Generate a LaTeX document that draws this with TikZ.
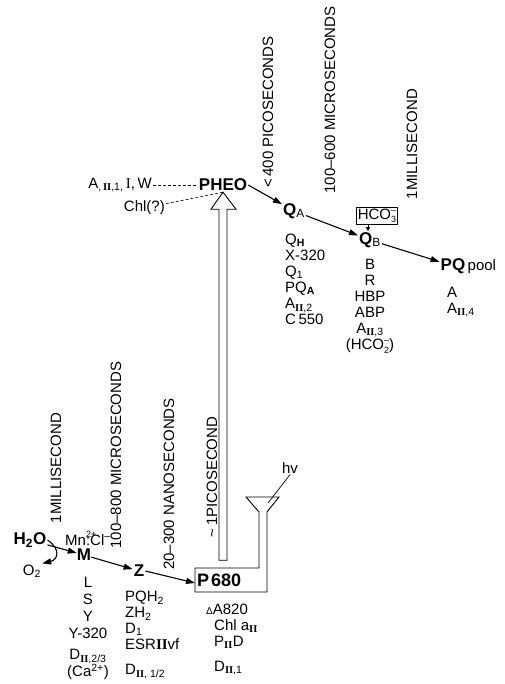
\documentclass[tikz,border=0pt]{standalone}
\usepackage{fontspec}
\setmainfont{Liberation Sans}
\newfontfamily\romfont{Liberation Serif}
\usetikzlibrary{arrows.meta,positioning,calc}
\newcommand\rII{{\romfont\bfseries II}}
\newcommand\sbsp[2]{\raisebox{-3.5pt}{\fontsize{9}{8}\selectfont\shortstack[l]{#2\\#1}}}
\tikzset{big/.style={font=\fontsize{17}{17}\selectfont\bfseries,inner sep=1pt},txt/.style={font=\fontsize{15}{16}\selectfont,inner sep=1pt},lst/.style={font=\fontsize{15}{16}\selectfont,inner sep=0pt,anchor=north},tm/.style={rotate=90,font=\fontsize{15}{15}\selectfont,inner sep=0pt},arr/.style={-{Triangle[length=9pt,width=6pt]},line width=1.1pt},dsh/.style={dash pattern=on 3pt off 2pt,line width=.6pt},hollow/.style={line width=.9pt,fill=white}}

\begin{document}
\begin{tikzpicture}[x=1pt,y=-1pt]
\path[use as bounding box] (0,0) rectangle (504,684);
\foreach \name/\xx/\yy/\txt in {t1/268/112/{<\,400 PICOSECONDS},t2/330/100/{100--600 MICROSECONDS},t3/412/144/{1MILLISECOND},t4/56/468/{1MILLISECOND},t5/116/455/{100--800 MICROSECONDS},t6/169/484/{20--300 NANOSECONDS},t7/212/477/{\textasciitilde\,1PICOSECOND}}{
\node[tm] (\name) at (\xx,\yy) {\txt};
}
\node[big] (pheo) at (223,185) {PHEO};
\node[txt,anchor=east] (aw) at (153,185) {A\textsubscript{,\,\rII,1,}\,{\romfont I},\,W};
\node[txt,anchor=east] (chl) at (166,208) {Chl(?)};
\node[big] (qa) at (294,211) {Q\textsubscript{\mdseries A}};
\node[draw,font=\fontsize{15}{15}\selectfont,inner sep=1.5pt,line width=.7pt] (hco) at (377,216) {HCO\sbsp{3}{--}};
\node[big] (qb) at (370,240) {Q\textsubscript{\mdseries B}};
\node[big] (pq) at (453,266) {PQ};
\node[txt,anchor=base west] (pool) at (pq.base east) {pool};
\node[lst,align=left,anchor=north west] (qalst) at (285,234) {Q\textsubscript{\bfseries H}\\X-320\\Q\textsubscript{1}\\PQ\textsubscript{\bfseries A}\\A\textsubscript{\rII,2}\\C\,550};
\node[lst,align=center] (qblst) at (370,259) {B\\R\\HBP\\ABP\\A\textsubscript{\rII,3}\\(HCO\sbsp{2}{--})};
\node[lst,align=left,anchor=north west] (pqlst) at (447,287) {A\\A\textsubscript{\rII,4}};
\node[big] (h2o) at (30,540) {H\textsubscript{2}O};
\node[txt] (o2) at (32,571) {O\textsubscript{2}};
\node[txt,anchor=base west,inner sep=0pt] (mncl) at (65,545) {Mn\rlap{\raisebox{8pt}{\fontsize{9}{9}\selectfont 2+}}:Cl\textsuperscript{--}};
\node[big,inner sep=0pt] (m) at (84,555) {M};
\node[big] (z) at (139,571) {Z};
\node[font=\fontsize{18}{18}\selectfont\bfseries,anchor=west,inner sep=2pt] (p680) at (195,580) {P\hspace{2pt}680};
\node[txt] (hv) at (290,468) {hv};
\node[lst,align=center,font=\fontsize{15}{17}\selectfont] (mlst) at (88,577) {L\\S\\Y\\Y-320\\[4pt]D\textsubscript{\rII,2/3}\\(Ca\textsuperscript{2+})};
\node[lst,align=left,anchor=north west] (zlst) at (125,591) {PQH\textsubscript{2}\\ZH\textsubscript{2}\\D\textsubscript{1}\\ESR\rII vf\\[9pt]D\textsubscript{\rII, 1/2}};
\node[lst,align=left,anchor=north west] (plst) at (206,604) {{\fontsize{10}{10}\selectfont Δ}A820\\\hspace*{8pt}Chl a\textsubscript{\rII}\\\hspace*{8pt}P\textsubscript{\rII}D\\[9pt]\hspace*{8pt}D\textsubscript{\rII,1}};
\coordinate (fun) at (268,503);
\draw[line width=.9pt] (195,568) -- (259,568) -- (259,512) -- (246,497) -- (279,497) -- (267,512) -- (267,592) -- (195,592) -- cycle;
\draw[hollow] (pheo.south) -- ++(13,17) -- ++(-9,0) -- ++(0,351) -- ++(-8,0) -- ++(0,-351) -- ++(-8,0) -- cycle;
\draw[line width=.7pt] (hv.south) -- (fun);
\draw[dsh] (aw) -- (pheo);
\draw[dsh] (chl) -- (pheo.south);
\draw[arr] (pheo.east) -- (qa);
\draw[arr] (qa) -- (qb);
\draw[arr] (qb) -- (pq);
\draw[-{Triangle[length=4pt,width=4pt]},line width=.7pt] ([xshift=-9pt]hco.south) -- ([xshift=-9pt]hco.south |- qb.north);
\draw[arr] (h2o) -- (m);
\draw[arr] (h2o.east) .. controls (62,550) and (57,560) .. (o2.north east);
\draw[arr] (m) -- (z);
\draw[arr] (z.east) -- ([yshift=-3pt]p680.west);
\end{tikzpicture}
\end{document}
